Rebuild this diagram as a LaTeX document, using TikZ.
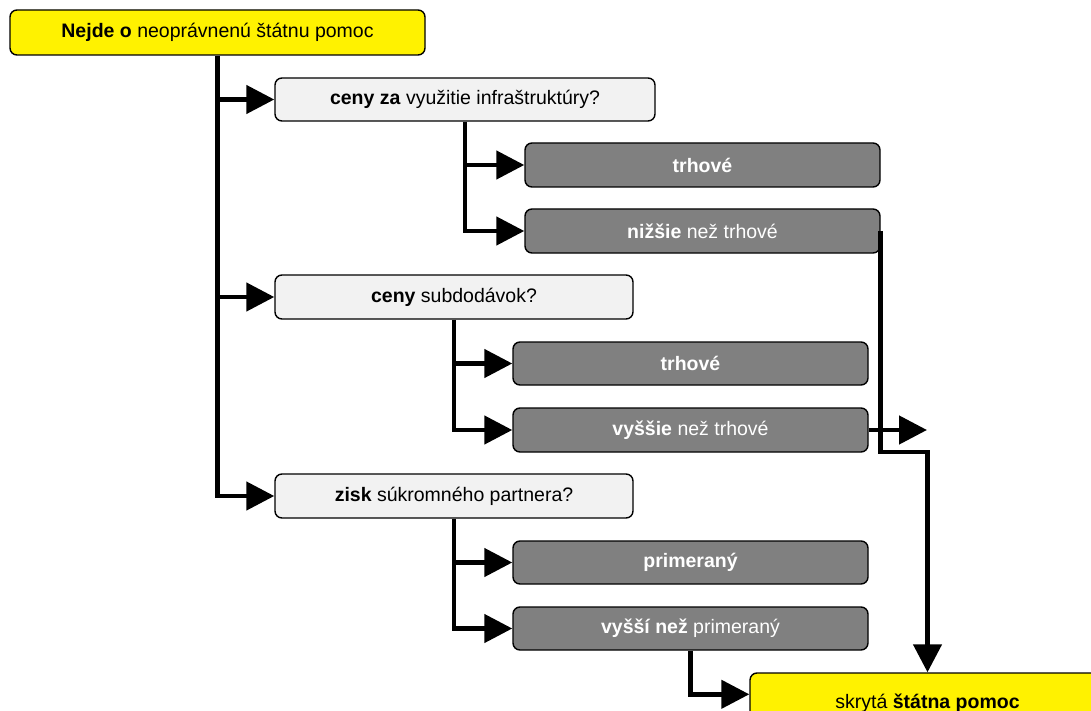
\documentclass[tikz,border=0pt]{standalone}
\usepackage{fontspec}
\setmainfont{Liberation Sans}
\usetikzlibrary{arrows.meta, calc}

\definecolor{lightbox}{HTML}{F2F2F2}
\definecolor{darkbox}{HTML}{808080}

\begin{document}
\begin{tikzpicture}[x=1pt, y=-1pt, line join=miter, >={Triangle[length=28pt, width=28pt]},
    box/.style={draw, rounded corners=7pt, line width=1.4pt, minimum height=44pt, inner sep=0pt,
        font=\fontsize{19.5}{23}\selectfont},
    question/.style={box, fill=lightbox, minimum width=358pt},
    answer/.style={box, fill=darkbox, text=white, minimum width=355pt},
    verdict/.style={box, fill=yellow},
    link/.style={line width=4.6pt, ->}]

    % Page
    \useasboundingbox (0,0) rectangle (1091,711);
    \clip (0,0) rectangle (1091,711);

    % Start and result
    \node[verdict, minimum width=415pt, minimum height=45pt] (start) at (217.5,32.5)
        {\textbf{Nejde o} neoprávnenú štátnu pomoc};
    \node[verdict, minimum width=355pt, minimum height=60pt] (result) at (927.5,703)
        {skrytá \textbf{štátna pomoc}};

    % Questions
    \node[question, minimum width=380pt, minimum height=43pt] (infra) at (465,99.5)
        {\textbf{ceny za} využitie infraštruktúry?};
    \node[question] (subdod) at (454,297) {\textbf{ceny} subdodávok?};
    \node[question] (zisk) at (454,496) {\textbf{zisk} súkromného partnera?};

    % Answers
    \node[answer] (infraA) at (702.5,165) {\textbf{trhové}};
    \node[answer] (infraB) at (702.5,231) {\textbf{nižšie} než trhové};
    \node[answer, minimum height=43pt] (subdodA) at (690.5,363.5) {\textbf{trhové}};
    \node[answer] (subdodB) at (690.5,430) {\textbf{vyššie} než trhové};
    \node[answer, minimum height=43pt] (ziskA) at (690.5,562.5) {\textbf{primeraný}};
    \node[answer, minimum height=43pt] (ziskB) at (690.5,628.5) {\textbf{vyšší než} primeraný};

    % Free points
    \coordinate (bend) at (880,452);
    \coordinate (out) at (927,430);

    % Main trunk
    \draw[link] (start.south) |- (zisk.west);
    \draw[link] (start.south |- infra.west) -- (infra.west);
    \draw[link] (start.south |- subdod.west) -- (subdod.west);

    % Branches
    \draw[link] (infra.south) |- (infraB.west);
    \draw[link] (infra.south |- infraA.west) -- (infraA.west);
    \draw[link] (subdod.south) |- (subdodB.west);
    \draw[link] (subdod.south |- subdodA.west) -- (subdodA.west);
    \draw[link] (zisk.south) |- (ziskB.west);
    \draw[link] (zisk.south |- ziskA.west) -- (ziskA.west);

    % To the result
    \draw[link] (ziskB.south) |- ($(result.north west)+(0,22)$);
    \draw[link] (infraB.east) -- (infraB.east |- bend) -| (result.north);
    \draw[link] (subdodB.east) -- (out);

\end{tikzpicture}
\end{document}
